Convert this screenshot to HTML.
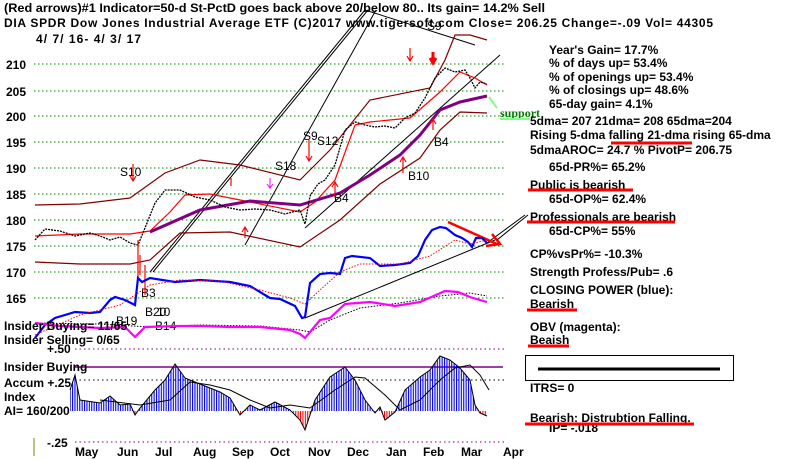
<!DOCTYPE html>
<html><head><meta charset="utf-8"><style>
body{margin:0;background:#fff}
svg{display:block}
text{font-family:"Liberation Sans",sans-serif;font-weight:bold;font-size:12px;fill:#000}
</style></head><body>
<svg width="800" height="459" viewBox="0 0 800 459" xmlns="http://www.w3.org/2000/svg">
<defs>
<pattern id="bl" width="2.4" height="4" patternUnits="userSpaceOnUse"><rect x="0" y="0" width="1.1" height="4" fill="#0000ff"/></pattern>
<pattern id="rd" width="2.4" height="4" patternUnits="userSpaceOnUse"><rect x="0" y="0" width="1.1" height="4" fill="#ff0000"/></pattern>
<clipPath id="up"><rect x="0" y="0" width="800" height="411"/></clipPath>
<clipPath id="dn"><rect x="0" y="411" width="800" height="50"/></clipPath>
</defs>
<!-- header -->
<text x="4" y="12" font-size="13" textLength="541" lengthAdjust="spacingAndGlyphs">(Red arrows)#1 Indicator=50-d St-PctD goes back above 20/below 80.. Its gain= 14.2% Sell</text>
<text x="4" y="27" font-size="13" textLength="709" lengthAdjust="spacing">DIA   SPDR Dow Jones Industrial Average ETF  (C)2017 www.tigersoft.com   Close=  206.25  Change=-.09 Vol= 44305</text>
<text x="36" y="43" font-size="13" textLength="105" lengthAdjust="spacing">4/ 7/ 16- 4/ 3/ 17</text>
<!-- grid -->
<g stroke="#008000" stroke-dasharray="1.5,2.5" stroke-width="1">
<line x1="34" y1="64" x2="505" y2="64"/><line x1="34" y1="91" x2="505" y2="91"/>
<line x1="34" y1="116" x2="505" y2="116"/><line x1="34" y1="142" x2="505" y2="142"/>
<line x1="34" y1="168" x2="505" y2="168"/><line x1="34" y1="194" x2="505" y2="194"/>
<line x1="34" y1="220" x2="505" y2="220"/><line x1="34" y1="246" x2="505" y2="246"/>
<line x1="34" y1="272" x2="505" y2="272"/><line x1="34" y1="298" x2="505" y2="298"/>
</g>
<g font-size="13">
<text x="6" y="69">210</text><text x="6" y="96">205</text><text x="6" y="121">200</text>
<text x="6" y="147">195</text><text x="6" y="173">190</text><text x="6" y="199">185</text>
<text x="6" y="225">180</text><text x="6" y="251">175</text><text x="6" y="277">170</text><text x="6" y="303">165</text>
</g>
<!-- trend lines -->
<g stroke="#000" stroke-width="1" fill="none">
<line x1="150" y1="272" x2="365" y2="10"/><line x1="153" y1="272" x2="368" y2="10"/>
<line x1="245" y1="245" x2="376" y2="10"/>
<line x1="305" y1="228" x2="500" y2="55"/>
<line x1="365" y1="10" x2="475" y2="45"/>
<line x1="305" y1="318" x2="495" y2="240"/>
<line x1="487" y1="243" x2="525" y2="215"/>
</g>
<!-- bands -->
<g fill="none" stroke-width="1.2">
<polyline stroke="#800000" points="35,205 80,204 130,198 165,173 200,160 240,165 300,180 330,150 370,100 430,88 445,60 455,35 470,35 487,40"/>
<polyline stroke="#800000" points="35,262 80,264 130,264 150,260 180,233 230,232 300,247 340,220 380,184 420,158 440,130 460,112 487,113"/>
<polyline stroke="#ff0000" points="35,236 80,234 130,234 150,231 170,212 185,195 210,194 240,200 300,212 315,202 335,180 355,125 370,122 410,118 440,92 460,72 475,78 487,85"/>
<polyline stroke="#800080" stroke-width="3" points="150,232 200,210 250,201 300,205 340,193 370,175 400,155 420,135 440,110 460,102 487,96"/>
</g>
<!-- price bars -->
<polyline fill="none" stroke="#000" stroke-width="1.3" stroke-dasharray="2,1" points="35,240 45,229 60,231 75,236 90,233 100,236 110,240 120,237 130,243 138,245 145,228 155,203 165,190 180,190 195,197 210,200 225,207 240,210 255,209 270,210 285,214 300,210 305,224 310,196 318,184 325,180 335,165 345,130 355,122 365,125 375,127 385,126 395,128 405,118 415,113 425,98 435,78 445,68 455,72 465,70 470,78 475,88 480,82 487,84"/>
<!-- support -->
<line x1="489" y1="97" x2="497" y2="108" stroke="#80ff80" stroke-width="2"/>
<text x="500" y="117" fill="#008000" style="fill:#008000;font-family:'Liberation Serif',serif" font-size="12">support</text>
<line x1="500" y1="119" x2="530" y2="119" stroke="#80ff80" stroke-width="2"/>
<!-- signals -->
<g font-size="14" font-weight="normal">
<text x="120" y="176" style="font-weight:normal">S10</text>
<text x="275" y="170" style="font-weight:normal">S18</text>
<text x="303" y="140" style="font-weight:normal">S9</text>
<text x="317" y="145" style="font-weight:normal">S12</text>
<text x="334" y="202" style="font-weight:normal">B4</text>
<text x="408" y="180" style="font-weight:normal">B10</text>
<text x="434" y="146" style="font-weight:normal">B4</text>
<text x="427" y="30" style="font-weight:normal">S9</text>
<text x="141" y="297" style="font-weight:normal">B3</text>
<text x="116" y="325" style="font-weight:normal">B19</text>
<text x="145" y="316" style="font-weight:normal">B20</text><text x="157" y="316" style="font-weight:normal">10</text>
<text x="155" y="330" style="font-weight:normal">B14</text>
</g>
<g stroke="#ff0000" stroke-width="1.2" fill="none">
<path d="M133,164 v16 M130,176 l3,5 l3,-5"/>
<path d="M309,140 v20 M306,156 l3,5 l3,-5"/>
<path d="M433,52 v10 M430,58 l3,5 l3,-5" stroke-width="3"/>
<path d="M410,48 v12 M407,56 l3,5 l3,-5"/>
<path d="M335,198 v-15 M332,187 l3,-5 l3,5"/>
<path d="M403,173 v-15 M400,162 l3,-5 l3,5"/>
<path d="M433,130 v-10 M430,124 l3,-5 l3,5"/>
<path d="M245,238 v-10 M242,232 l3,-5 l3,5"/>
<path d="M231,178 v8"/>
<path d="M138,240 v40 M140,275 v-20 M145,265 v30"/>
</g>
<path d="M270,178 v10 M267,184 l3,4 l3,-4" stroke="#ff00ff" fill="none"/>
<!-- red down trend arrow -->
<path d="M448,222 L497,244 M486,246 L500,244 L492,234" stroke="#ff0000" stroke-width="2.5" fill="none"/>
<!-- CP blue -->
<polyline fill="none" stroke="#0000ff" stroke-width="2.2" points="35,338 45,325 55,318 75,312 90,313 100,312 110,300 115,297 125,300 135,305 138,278 142,282 150,278 175,282 200,280 230,282 250,286 260,292 270,298 280,299 295,306 302,318 305,317 310,283 320,274 330,273 340,274 345,258 352,256 370,258 380,266 395,265 410,263 418,256 425,240 432,230 440,227 446,228 455,235 462,238 468,242 472,247 476,238 482,238 487,243"/>
<polyline fill="none" stroke="#ff0000" stroke-width="1" stroke-dasharray="1.5,1.5" points="35,335 80,315 120,305 150,285 180,280 220,281 260,290 290,298 305,304 320,290 340,272 360,264 400,264 430,256 455,240 470,244 487,240"/>
<!-- OBV magenta -->
<polyline fill="none" stroke="#000" stroke-width="1" stroke-dasharray="1.5,1.5" points="35,323 100,324 150,327 200,325 260,326 300,330 310,332 330,320 360,308 400,303 440,296 470,293 487,296"/>
<polyline fill="none" stroke="#ff00ff" stroke-width="2.2" points="35,323 60,326 80,327 100,328 125,327 135,337 145,327 180,326 200,326 230,327 260,327 290,330 300,334 305,338 320,320 330,318 345,304 370,302 395,306 420,302 445,291 458,292 470,297 480,300 487,302"/>
<!-- lower panel -->
<g stroke="#800080" stroke-dasharray="1.5,3" stroke-width="1">
<line x1="75" y1="349" x2="505" y2="349"/>
<line x1="75" y1="442" x2="505" y2="442"/>
</g>
<g stroke="#000" stroke-dasharray="1.5,3"><line x1="75" y1="380" x2="505" y2="380"/></g>
<line x1="75" y1="367" x2="503" y2="367" stroke="#800080" stroke-width="1.5"/>
<g>
<polygon clip-path="url(#up)" fill="url(#bl)" points="70,411 70,390 75,375 80,400 100,403 110,396 120,405 130,404 135,415 140,408 155,390 165,380 175,364 185,378 200,384 220,392 230,398 240,415 250,405 260,410 275,402 290,410 300,420 305,430 315,400 330,377 345,367 355,380 365,400 375,413 380,407 385,420 395,412 405,390 420,377 430,370 440,356 450,360 460,368 470,380 475,405 480,413 487,416 487,411"/>
<polygon clip-path="url(#dn)" fill="url(#rd)" points="70,411 70,390 75,375 80,400 100,403 110,396 120,405 130,404 135,415 140,408 155,390 165,380 175,364 185,378 200,384 220,392 230,398 240,415 250,405 260,410 275,402 290,410 300,420 305,430 315,400 330,377 345,367 355,380 365,400 375,413 380,407 385,420 395,412 405,390 420,377 430,370 440,356 450,360 460,368 470,380 475,405 480,413 487,416 487,411"/>
<polyline fill="none" stroke="#000" stroke-width="1" points="70,390 75,375 80,400 100,403 110,396 120,405 130,404 135,415 140,408 155,390 165,380 175,364 185,378 200,384 220,392 230,398 240,415 250,405 260,410 275,402 290,410 300,420 305,430 315,400 330,377 345,367 355,380 365,400 375,413 380,407 385,420 395,412 405,390 420,377 430,370 440,356 450,360 460,368 470,380 475,405 480,413 487,416"/>
<polyline fill="none" stroke="#000" stroke-width="1" points="100,400 140,405 170,400 190,382 210,385 230,390 250,400 270,408 290,405 310,408 335,390 355,377 365,378 385,395 400,410 420,400 440,380 455,368 470,365 480,375 489,390"/>
</g>
<line x1="34" y1="438" x2="34" y2="456" stroke="#808000"/>
<g font-size="13">
<text x="4" y="330">Insider Buying= 11/65</text>
<text x="4" y="344">Insider Selling= 0/65</text>
<text x="47" y="353">+.50</text>
<text x="4" y="371">Insider Buying</text>
<text x="4" y="387">Accum  +.25</text>
<text x="4" y="401">Index</text>
<text x="4" y="415">AI= 160/200</text>
<text x="47" y="447">-.25</text>
<text x="75" y="456">May</text><text x="117" y="456">Jun</text><text x="155" y="456">Jul</text>
<text x="193" y="456">Aug</text><text x="232" y="456">Sep</text><text x="270" y="456">Oct</text>
<text x="308" y="456">Nov</text><text x="347" y="456">Dec</text><text x="386" y="456">Jan</text>
<text x="423" y="456">Feb</text><text x="461" y="456">Mar</text><text x="503" y="456">Apr</text>
</g>
<!-- right panel text -->
<g font-size="12">
<text x="549" y="54">Year's Gain= 17.7%</text>
<text x="549" y="67">% of days up= 53.4%</text>
<text x="549" y="81">% of openings up= 53.4%</text>
<text x="549" y="94">% of closings up= 48.6%</text>
<text x="549" y="108">65-day gain= 4.1%</text>
<text x="530" y="125">5dma= 207 21dma= 208 65dma=204</text>
<text x="530" y="139">Rising 5-dma  falling 21-dma  rising 65-dma</text>
<text x="530" y="154">5dmaAROC= 24.7 %  PivotP= 206.75</text>
<text x="549" y="171">65d-PR%= 65.2%</text>
<text x="530" y="189">Public is bearish</text>
<text x="549" y="203">65d-OP%= 62.4%</text>
<text x="530" y="221">Professionals are bearish</text>
<text x="549" y="235">65d-CP%= 55%</text>
<text x="530" y="258">CP%vsPr%= -10.3%</text>
<text x="530" y="276">Strength Profess/Pub= .6</text>
<text x="530" y="294">CLOSING POWER (blue):</text>
<text x="530" y="308">Bearish</text>
<text x="530" y="331">OBV (magenta):</text>
<text x="530" y="344">Beaish</text>
<text x="530" y="392">ITRS= 0</text>
<text x="530" y="422">Bearish: Distrubtion Falling.</text>
<text x="549" y="432">IP= -.018</text>
</g>
<g stroke="#ff0000" stroke-width="3" fill="none">
<line x1="611" y1="143" x2="692" y2="143"/>
<line x1="528" y1="190" x2="633" y2="190"/>
<line x1="527" y1="222" x2="675" y2="222"/>
<line x1="527" y1="310" x2="577" y2="310"/>
<line x1="528" y1="346" x2="569" y2="346"/>
<line x1="525" y1="424" x2="694" y2="424"/>
</g>
<line x1="528" y1="215" x2="497" y2="240" stroke="#000" stroke-width="1"/>
<rect x="525.5" y="355.5" width="208" height="25" fill="none" stroke="#000"/>
<line x1="538" y1="369" x2="720" y2="369" stroke="#000" stroke-width="3"/>
</svg>
</body></html>
